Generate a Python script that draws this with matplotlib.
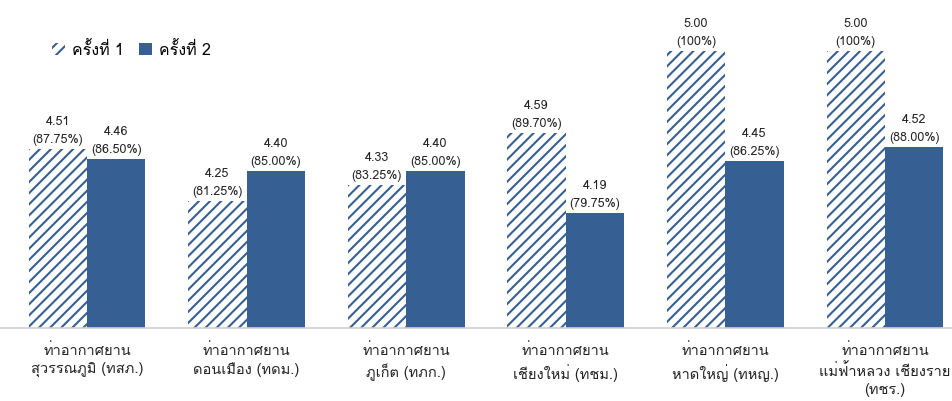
import numpy as np
import matplotlib
matplotlib.use('Agg')
import matplotlib.pyplot as plt
from matplotlib import font_manager
from matplotlib.ft2font import FT2Font
from matplotlib.patches import Patch

airports = ['ท่าอากาศยาน\nสุวรรณภูมิ (ทสภ.)',
            'ท่าอากาศยาน\nดอนเมือง (ทดม.)',
            'ท่าอากาศยาน\nภูเก็ต (ทภก.)',
            'ท่าอากาศยาน\nเชียงใหม่ (ทชม.)',
            'ท่าอากาศยาน\nหาดใหญ่ (ทหญ.)',
            'ท่าอากาศยาน\nแม่ฟ้าหลวง เชียงราย\n(ทชร.)']
round1 = [4.51, 4.25, 4.33, 4.59, 5.00, 5.00]
round1_pct = ['87.75%', '81.25%', '83.25%', '89.70%', '100%', '100%']
round2 = [4.46, 4.40, 4.40, 4.19, 4.45, 4.52]
round2_pct = ['86.50%', '85.00%', '85.00%', '79.75%', '86.25%', '88.00%']
series_names = ['ครั้งที่ 1', 'ครั้งที่ 2']

# find a font with thai glyphs
thai_family = None
for f in font_manager.fontManager.ttflist:
    try:
        if 0x0E01 in FT2Font(f.fname).get_charmap():
            thai_family = f.name
            break
    except Exception:
        pass
families = ([thai_family] if thai_family else []) + ['DejaVu Sans']
plt.rcParams['font.family'] = families
plt.rcParams['hatch.linewidth'] = 1.5

blue = '#365f93'
plt.rcParams['hatch.color'] = blue

fig = plt.figure(figsize=(9.52, 4.02), dpi=100)
ax = fig.add_axes([0, 0.182, 1, 0.818])

x = np.arange(len(airports))
w = 0.366
b1 = ax.bar(x - w / 2, round1, w, color='white', edgecolor=blue,
            hatch='///', linewidth=0)
b2 = ax.bar(x + w / 2, round2, w, color=blue, linewidth=0)

for i in range(len(x)):
    ax.annotate('%.2f\n(%s)' % (round1[i], round1_pct[i]), (x[i] - w / 2, round1[i]),
                xytext=(0, 3), textcoords='offset points', ha='center', va='bottom',
                fontsize=9, color='#222222', linespacing=1.65)
    ax.annotate('%.2f\n(%s)' % (round2[i], round2_pct[i]), (x[i] + w / 2, round2[i]),
                xytext=(0, 3), textcoords='offset points', ha='center', va='bottom',
                fontsize=9, color='#222222', linespacing=1.65)

ax.set_ylim(3.615, 5.26)
ax.set_xlim(-0.545, 5.42)
ax.set_xticks(x)
ax.set_xticklabels(airports, fontsize=10.5, color='#222222', linespacing=1.4)
ax.tick_params(axis='x', length=0, pad=10)
ax.set_yticks([])
for s in ['top', 'right', 'left']:
    ax.spines[s].set_visible(False)
ax.spines['bottom'].set_color('#d0d0d0')
ax.spines['bottom'].set_linewidth(1.2)

handles = [Patch(facecolor='white', edgecolor=blue, hatch='///', linewidth=0),
           Patch(facecolor=blue, linewidth=0)]
ax.legend(handles, series_names, loc='upper left', bbox_to_anchor=(0.04, 0.915),
          frameon=False, ncol=2, fontsize=11.5, handlelength=0.8, handleheight=0.8,
          handletextpad=0.4, columnspacing=1.0)

fig.savefig('out.png', dpi=100)
